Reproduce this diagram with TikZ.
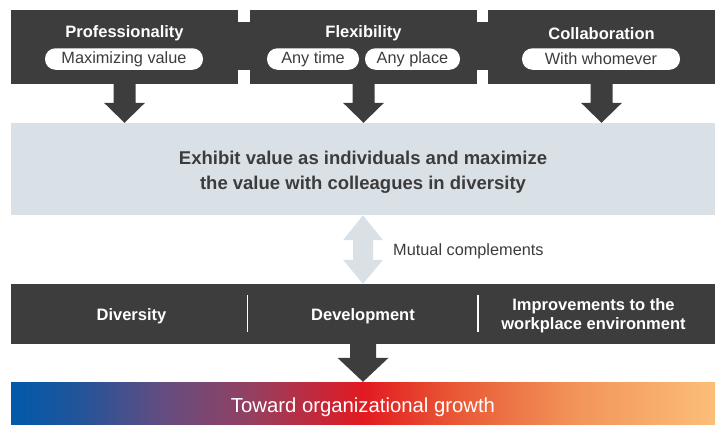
\documentclass[tikz,border=0pt]{standalone}
\usepackage{fontspec}
\setmainfont{Liberation Sans}
\usetikzlibrary{calc}
\definecolor{darkc}{RGB}{61,61,61}
\definecolor{lightc}{RGB}{217,225,231}
\definecolor{textc}{RGB}{60,60,60}
\pgfdeclarehorizontalshading{growth}{100bp}{rgb(0bp)=(0,0.353,0.667); rgb(25bp)=(0,0.353,0.667); rgb(30bp)=(0.14,0.33,0.6); rgb(36bp)=(0.4,0.3,0.5); rgb(42bp)=(0.58,0.25,0.38); rgb(50bp)=(0.886,0.1,0.13); rgb(56bp)=(0.91,0.33,0.2); rgb(65bp)=(0.95,0.58,0.35); rgb(75bp)=(0.988,0.745,0.478); rgb(100bp)=(0.988,0.745,0.478)}
\newcommand\blkarrow[5]{%
  \fill[darkc] ($(#1)+(-#3,0)$) -- ($(#1)+(#3,0)$) -- ($(#2)+(#3,-#5)$) -- ($(#2)+(#4,-#5)$) -- (#2) -- ($(#2)+(-#4,-#5)$) -- ($(#2)+(-#3,-#5)$) -- cycle;}
\tikzset{
  topbox/.style={fill=darkc, minimum width=227pt, minimum height=74pt, inner sep=0pt},
  head/.style={text=white, font=\bfseries\fontsize{16.5}{19}\selectfont, inner sep=0pt},
  pill/.style={fill=white, rounded corners=10.5pt, minimum height=21.5pt, inner sep=0pt, text=darkc, font=\fontsize{16.3}{19}\selectfont},
  bottxt/.style={text=white, font=\bfseries\fontsize{16.5}{19}\selectfont, align=center, inner sep=0pt},
}
\begin{document}
\begin{tikzpicture}[x=1pt,y=-1pt]
\useasboundingbox (0,0) rectangle (717,424);
% top row
\fill[darkc] (11,22) rectangle (715,70);
\node[topbox] (box1) at (124.5,47) {};
\node[topbox] (box2) at (363.5,47) {};
\node[topbox] (box3) at (601.5,47) {};
\node[head] (h1) at (124.5,33.5) {Professionality};
\node[head] (h2) at (363.5,33.5) {Flexibility};
\node[head] (h3) at (601.5,33.5) {Collaboration};
\node[pill, minimum width=158pt] (p1) at (124,59) {Maximizing value};
\node[pill, minimum width=92pt] (p2a) at (313,59) {Any time};
\node[pill, minimum width=95pt] (p2b) at (412.5,59) {Any place};
\node[pill, minimum width=158pt] (p3) at (601,59) {With whomever};
% middle box
\node[fill=lightc, minimum width=704pt, minimum height=92pt, inner sep=0pt] (mid) at (363,169) {};
\node[text=textc, font=\bfseries\fontsize{18.5}{25}\selectfont, align=center, inner sep=0pt] (midtxt) at (363,172) {Exhibit value as individuals and maximize\\the value with colleagues in diversity};
% arrows top
\coordinate (t1) at (box1.south |- mid.north);
\coordinate (t2) at (box2.south |- mid.north);
\coordinate (t3) at (box3.south |- mid.north);
\blkarrow{box1.south}{t1}{11}{20.5}{20}
\blkarrow{box2.south}{t2}{11}{20.5}{20}
\blkarrow{box3.south}{t3}{11}{20.5}{20}
% bottom dark box
\node[fill=darkc, minimum width=704pt, minimum height=60pt, inner sep=0pt] (bot) at (363,314) {};
\draw[white, line width=1.3pt] (247.5,295) -- (247.5,332);
\draw[white, line width=1.3pt] (478,295) -- (478,332);
\node[bottxt] (b1) at (131.5,316) {Diversity};
\node[bottxt] (b2) at (363,316) {Development};
\node[bottxt] (b3) at (593.5,316) {Improvements to the\\workplace environment};
% double arrow
\fill[lightc] (mid.south) -- ($(mid.south)+(20,25)$) -- ($(mid.south)+(10,25)$) -- ($(bot.north)+(10,-24)$) -- ($(bot.north)+(20,-24)$) -- (bot.north) -- ($(bot.north)+(-20,-24)$) -- ($(bot.north)+(-10,-24)$) -- ($(mid.south)+(-10,25)$) -- ($(mid.south)+(-20,25)$) -- cycle;
\node[anchor=west, text=textc, font=\fontsize{16.3}{19}\selectfont, inner sep=0pt] (mutual) at (393,251) {Mutual complements};
% gradient bar
\node[shading=growth, minimum width=704pt, minimum height=42pt, inner sep=0pt] (bar) at (363,403) {};
\node[text=white, font=\fontsize{20.3}{24}\selectfont, inner sep=0pt] (bartxt) at (363,407) {Toward organizational growth};
\blkarrow{bot.south}{bar.north}{13}{25.5}{24}
\end{tikzpicture}
\end{document}
